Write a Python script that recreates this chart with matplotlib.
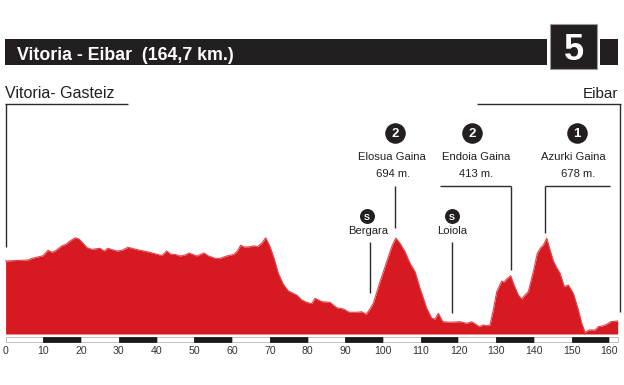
import matplotlib
matplotlib.use('Agg')
import matplotlib.pyplot as plt
from matplotlib.patches import Rectangle
from matplotlib import font_manager

# ---------------- data ----------------
km = [0, 5.94, 7.00, 9.91, 11.23, 12.29, 13.09, 14.94, 16.00, 17.06, 18.39, 19.45,
      20.51, 21.57, 22.89, 25.01, 26.07, 27.13, 28.19, 29.52, 30.84, 32.43, 34.82,
      37.47, 40.91, 41.36, 42.69, 43.75, 44.89, 46.21, 47.54, 48.60, 50.64, 52.57,
      53.63, 55.48, 56.81, 58.58, 60.52, 61.40, 62.30, 63.17, 64.76, 65.82, 66.69,
      67.86, 68.92, 70.06, 71.12, 72.26, 73.58, 74.91, 75.81, 77.13, 78.46, 79.78,
      81.11, 81.98, 82.86, 83.76, 85.96, 87.73, 89.48, 91.07, 93.03, 94.36, 95.50,
      96.55, 97.43, 99.21, 100.98, 102.31, 103.37, 104.50, 105.83, 107.16, 108.48,
      109.81, 111.58, 112.91, 113.78, 114.65, 115.82, 117.75, 120.40, 122.18,
      123.50, 125.52, 126.58, 127.48, 128.35, 129.23, 130.13, 131.45, 132.06,
      132.78, 133.84, 134.72, 135.85, 136.75, 137.63, 138.50, 139.82, 140.88,
      141.79, 142.48, 143.38, 144.25, 145.13, 146.03, 146.90, 148.04, 149.10,
      150.42, 151.75, 152.65, 153.52, 154.66, 156.17, 157.05, 158.38, 159.27,
      160.34, 162.19]
elev = [528, 535, 547, 566, 605, 591, 600, 638, 649, 672, 696, 687,
        656, 624, 612, 620, 600, 620, 610, 600, 605, 627, 610,
        595, 571, 566, 600, 576, 576, 564, 571, 586, 564, 586,
        566, 547, 547, 564, 576, 600, 643, 629, 631, 638, 631,
        656, 696, 631, 547, 439, 359, 311, 299, 282, 246, 229,
        219, 258, 246, 234, 229, 190, 181, 157, 157, 161, 142,
        181, 222, 378, 523, 631, 694, 656, 595, 511, 450,
        330, 186, 114, 108, 150, 89, 85, 89, 77,
        89, 53, 65, 60, 65, 174, 306, 383, 374,
        398, 421, 354, 282, 253, 282, 306, 450, 583,
        624, 643, 692, 607, 528, 479, 439, 342, 354,
        294, 174, 77, 12, 29, 29, 53, 60, 70,
        89, 94]

tick_values = [0, 10, 20, 30, 40, 50, 60, 70, 80, 90, 100, 110, 120, 130, 140, 150, 160]
tick_labels = [str(v) for v in tick_values]
scale_end_km = 162.3

title = "Vitoria - Eibar  (164,7 km.)"
stage = "5"
start_name = "Vitoria- Gasteiz"
end_name = "Eibar"

climb_cat = ["2", "2", "1"]
climb_name = ["Elosua Gaina", "Endoia Gaina", "Azurki Gaina"]
climb_alt = ["694 m.", "413 m.", "678 m."]
climb_km = [103.2, 133.8, 142.9]

sprint_name = ["Bergara", "Loiola"]
sprint_km = [96.6, 118.2]

# ---------------- layout helpers ----------------
W, H = 624, 385
X0, PXKM = 5.6, 3.774      # pixel of km 0, pixels per km
Y0, PXM = 334.0, 0.1383    # pixel of 0 m, pixels per metre


def kx(px):
    return (px - X0) / PXKM


def ey(py):
    return (Y0 - py) / PXM


def hline(x0, x1, y, **kw):
    ax.plot([kx(x0), kx(x1)], [ey(y), ey(y)], **kw)


def vline_px(x, y0, y1, **kw):
    ax.plot([kx(x), kx(x)], [ey(y0), ey(y1)], **kw)


def rect(x0, y0, x1, y1, **kw):
    ax.add_patch(Rectangle((kx(x0), ey(y1)), kx(x1) - kx(x0), ey(y0) - ey(y1), **kw))


names = {f.name for f in font_manager.fontManager.ttflist}
NARROW = 'Liberation Sans Narrow' if 'Liberation Sans Narrow' in names else 'Liberation Sans'
FAM = [NARROW, 'DejaVu Sans']
SANS = ['Liberation Sans', 'DejaVu Sans']

RED = '#d71a21'
DARK = '#231f20'
LINE = '#2b2b2b'

fig = plt.figure(figsize=(W / 100, H / 100), dpi=100)
ax = fig.add_axes([0, 0, 1, 1])
ax.set_xlim(kx(0), kx(W))
ax.set_ylim(ey(H), ey(0))
ax.axis('off')

# ---------------- header ----------------
rect(5, 39, 547, 65, facecolor=DARK, edgecolor='none')
rect(600, 39, 618, 65, facecolor=DARK, edgecolor='none')
rect(550, 24, 597, 69, facecolor=DARK, edgecolor='#9a9a9a', linewidth=0.8)
ax.text(kx(17), ey(60), title, family=FAM, fontweight='bold', fontsize=12.8,
        color='white', ha='left', va='baseline')
ax.text(kx(573.5), ey(59.5), stage, family=SANS,
        fontweight='bold', fontsize=26, color='white', ha='center', va='baseline')

# ---------------- start / finish brackets ----------------
ax.text(kx(5), ey(97.5), start_name, family=FAM, fontsize=11.5, color=DARK,
        ha='left', va='baseline')
ax.text(kx(618), ey(97.5), end_name, family=FAM, fontsize=11, color=DARK,
        ha='right', va='baseline')
lk = dict(color=LINE, lw=1.0, solid_capstyle='butt')
hline(5, 128, 104, **lk)
vline_px(5.8, 104, 247, **lk)
hline(477, 620.5, 104, **lk)
vline_px(620, 104, 312, **lk)

# ---------------- profile ----------------
ax.fill_between(km, elev, 0, color=RED, linewidth=0, zorder=2)
ax.plot(km, elev, color='#e2464c', lw=0.8, zorder=3)

# ---------------- distance scale bar ----------------
bar_y0, bar_y1 = 337.3, 341.8
for i, v in enumerate(tick_values):
    end = tick_values[i + 1] if i + 1 < len(tick_values) else scale_end_km
    black = (v // 10) % 2 == 1
    ax.add_patch(Rectangle((v, ey(bar_y1)), end - v, ey(bar_y0) - ey(bar_y1),
                           facecolor='#1a1a1a' if black else 'white',
                           edgecolor='#1a1a1a' if black else '#b5b5b5',
                           linewidth=0.6, zorder=4))
for v, lab in zip(tick_values, tick_labels):
    ax.text(v, ey(354), lab, family=SANS,
            fontsize=7.6, color='#333333', ha='center', va='baseline')

# ---------------- climbs ----------------
circle_x = [395, 471.7, 577]
name_x = [392, 476.5, 573]
alt_x = [393.5, 476, 578.5]
for i, (cat, nm, alt) in enumerate(zip(climb_cat, climb_name, climb_alt)):
    ax.scatter([kx(circle_x[i])], [ey(133)], s=190, color=DARK, zorder=5)
    ax.text(kx(circle_x[i]), ey(133), cat, family=SANS,
            fontweight='bold', fontsize=9.5, color='white', ha='center',
            va='center_baseline', zorder=6)
    ax.text(kx(name_x[i]), ey(160.5), nm, family=FAM, fontsize=8.1, color=DARK,
            ha='center', va='baseline')
    ax.text(kx(alt_x[i]), ey(177), alt, family=FAM, fontsize=8.1, color=DARK,
            ha='center', va='baseline')

# climb leader lines
ax.plot([climb_km[0], climb_km[0]], [ey(186), ey(228)], **lk)
hline(440, 511, 186, **lk)
ax.plot([climb_km[1], climb_km[1]], [ey(186), ey(270)], **lk)
hline(545, 610, 186, **lk)
ax.plot([climb_km[2], climb_km[2]], [ey(186), ey(233)], **lk)

# ---------------- sprints ----------------
sprint_circle_x = [367, 451.7]
sprint_text_x = [368, 452]
sprint_line_bottom = [293, 313]
for nm, k, cx, tx, yb in zip(sprint_name, sprint_km, sprint_circle_x, sprint_text_x,
                             sprint_line_bottom):
    ax.scatter([kx(cx)], [ey(216)], s=95, color=DARK, zorder=5)
    ax.text(kx(cx), ey(216), "S", family=SANS,
            fontweight='bold', fontsize=6.5, color='white', ha='center',
            va='center_baseline', zorder=6)
    ax.text(kx(tx), ey(233.5), nm, family=FAM, fontsize=8.1, color=DARK,
            ha='center', va='baseline')
    ax.plot([k, k], [ey(242), ey(yb)], **lk)

fig.savefig('out.png', dpi=100)
